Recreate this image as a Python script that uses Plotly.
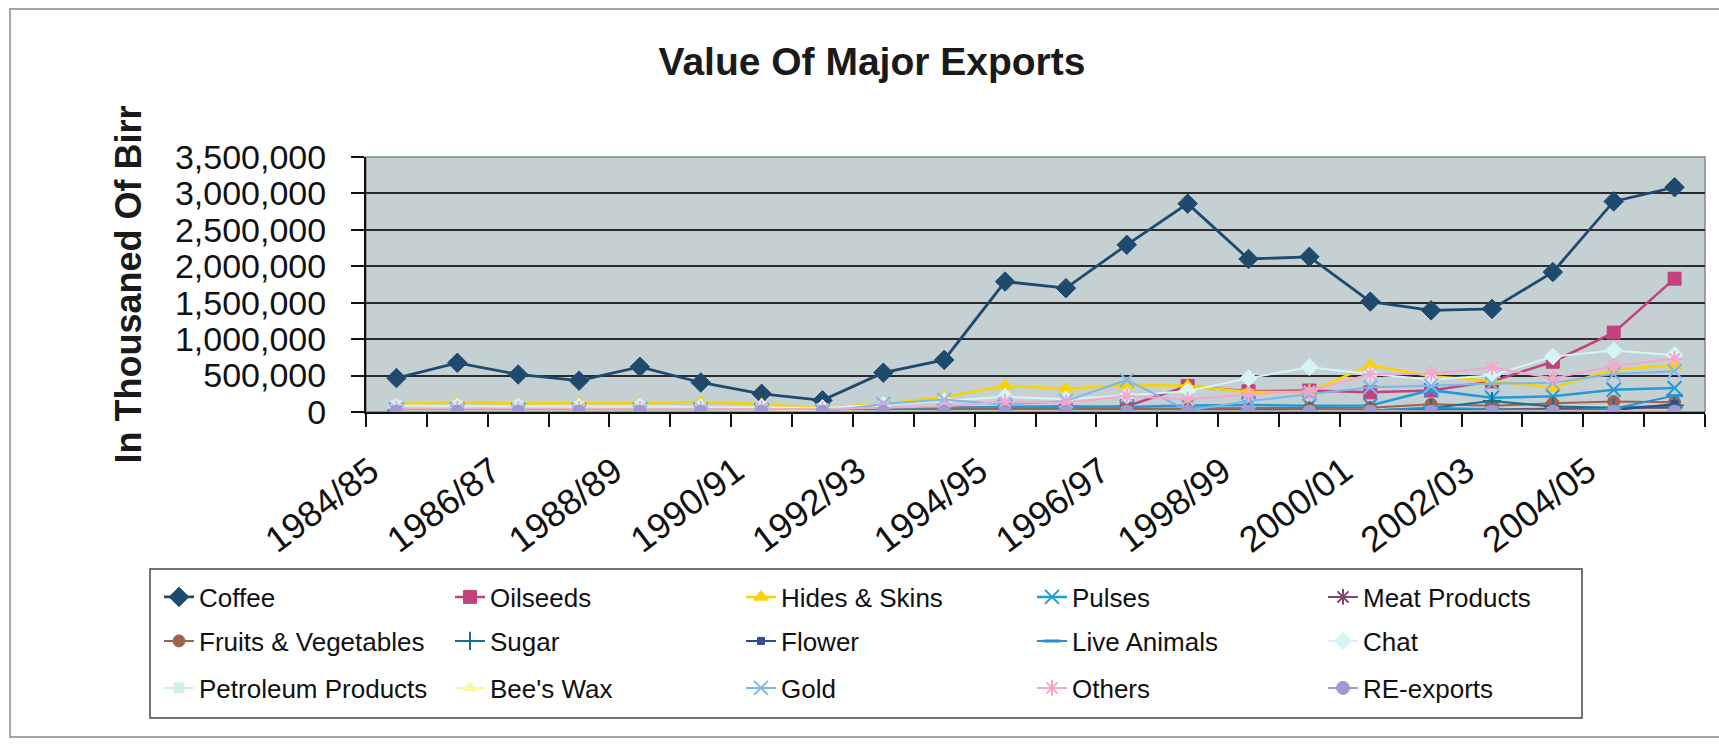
import plotly.graph_objects as go

# Fiscal years on the category axis
years = ["1984/85", "1985/86", "1986/87", "1987/88", "1988/89", "1989/90",
         "1990/91", "1991/92", "1992/93", "1993/94", "1994/95", "1995/96",
         "1996/97", "1997/98", "1998/99", "1999/00", "2000/01", "2001/02",
         "2002/03", "2003/04", "2004/05", "2005/06"]

# Export values, thousand Birr
coffee = [465000, 675000, 515000, 430000, 620000, 405000, 250000, 160000, 540000, 715000, 1790000,
          1700000, 2295000, 2860000, 2100000, 2130000, 1515000, 1395000, 1415000, 1920000, 2890000, 3085000]
oilseeds = [35000, 30000, 30000, 25000, 30000, 25000, 20000, 15000, 25000, 60000, 60000,
            55000, 80000, 355000, 285000, 295000, 270000, 295000, 420000, 690000, 1090000, 1830000]
hides_skins = [110000, 130000, 115000, 125000, 120000, 135000, 105000, 50000, 115000, 205000, 360000,
               320000, 370000, 360000, 275000, 275000, 645000, 490000, 425000, 335000, 585000, 640000]
pulses = [30000, 35000, 30000, 30000, 35000, 30000, 25000, 20000, 45000, 55000, 70000,
          80000, 70000, 90000, 95000, 85000, 90000, 300000, 195000, 215000, 305000, 330000]
meat_products = [20000, 20000, 15000, 15000, 15000, 10000, 5000, 3000, 10000, 15000, 20000,
                 20000, 15000, 25000, 30000, 20000, 25000, 35000, 30000, 45000, 55000, 60000]
fruits_veg = [45000, 45000, 45000, 40000, 40000, 35000, 30000, 20000, 30000, 35000, 45000,
              45000, 40000, 50000, 55000, 55000, 60000, 105000, 85000, 120000, 145000, 135000]
sugar = [20000, 25000, 25000, 15000, 20000, 15000, 10000, 5000, 15000, 20000, 25000,
         10000, 5000, 10000, 15000, 20000, 20000, 55000, 150000, 75000, 60000, 90000]
flower = [0, 0, 0, 0, 0, 0, 0, 0, 0, 0, 0,
          0, 0, 0, 0, 0, 0, 0, 5000, 10000, 25000, 110000]
live_animals = [25000, 25000, 20000, 20000, 25000, 20000, 15000, 10000, 15000, 20000, 25000,
                30000, 20000, 25000, 20000, 15000, 20000, 60000, 40000, 20000, 45000, 225000]
chat = [75000, 80000, 75000, 75000, 80000, 70000, 65000, 55000, 100000, 150000, 210000,
        175000, 225000, 285000, 465000, 615000, 520000, 445000, 500000, 760000, 845000, 780000]
petroleum = [90000, 85000, 80000, 75000, 70000, 60000, 40000, 5000, 0, 0, 0,
             0, 0, 0, 0, 0, 0, 0, 0, 0, 0, 0]
bees_wax = [12000, 14000, 13000, 12000, 11000, 10000, 9000, 6000, 8000, 10000, 12000,
            11000, 10000, 9000, 8000, 9000, 10000, 9000, 10000, 11000, 12000, 13000]
gold = [0, 0, 0, 0, 0, 0, 0, 0, 110000, 170000, 100000,
        150000, 440000, 20000, 150000, 245000, 340000, 360000, 390000, 400000, 520000, 560000]
others = [45000, 45000, 45000, 45000, 45000, 50000, 50000, 40000, 60000, 80000, 140000,
          130000, 220000, 170000, 240000, 285000, 520000, 525000, 610000, 465000, 630000, 730000]
re_exports = [4000, 4000, 4000, 3000, 3000, 3000, 3000, 2000, 3000, 3000, 4000,
              4000, 4000, 5000, 5000, 5000, 5000, 5000, 6000, 6000, 6000, 6000]

# (name, values, colour, marker symbol, marker size, line width, legend row)
series = [
    ("Coffee", coffee, "#1F4A6E", "diamond", 15, 2.8, "legend"),
    ("Oilseeds", oilseeds, "#C2417E", "square", 13, 2.5, "legend"),
    ("Hides & Skins", hides_skins, "#F7D300", "triangle-up", 13, 2.5, "legend"),
    ("Pulses", pulses, "#1E9BD8", "x-thin-open", 14, 2.5, "legend"),
    ("Meat Products", meat_products, "#7A4A6E", "asterisk-open", 13, 2, "legend"),
    ("Fruits & Vegetables", fruits_veg, "#A2614E", "circle", 12, 2, "legend2"),
    ("Sugar", sugar, "#17708F", "cross-thin-open", 13, 2, "legend2"),
    ("Flower", flower, "#2E4E90", "square", 7, 2, "legend2"),
    ("Live Animals", live_animals, "#2A8FCF", "line-ew-open", 12, 2, "legend2"),
    ("Chat", chat, "#D6F3F8", "diamond", 13, 2, "legend2"),
    ("Petroleum Products", petroleum, "#D3EFE6", "square", 10, 2, "legend3"),
    ("Bee's Wax", bees_wax, "#FAF6A6", "triangle-up", 12, 2, "legend3"),
    ("Gold", gold, "#7FB6EA", "x-thin-open", 14, 2, "legend3"),
    ("Others", others, "#F4A7CA", "asterisk-open", 13, 2, "legend3"),
    ("RE-exports", re_exports, "#9C9AD0", "circle", 13, 2, "legend3"),
]

fig = go.Figure()
for name, vals, color, symbol, size, width, leg in series:
    open_sym = symbol.endswith("-open")
    fig.add_trace(go.Scatter(
        x=years, y=vals, name=name, mode="lines+markers", legend=leg,
        line=dict(color=color, width=width),
        marker=dict(symbol=symbol, size=size, color=color,
                    line=dict(color=color, width=3 if symbol == "line-ew-open" else (2 if open_sym else 1))),
    ))

# plot-area geometry in pixels
W, H = 1719, 744
L, R, T, B = 366, 1705, 157, 412
pw, ph = R - L, B - T


def px_x(x):
    return (x - L) / pw


def px_y(y):
    return (B - y) / ph


FONT = "Liberation Sans, Arial, sans-serif"
legend_common = dict(orientation="h", xanchor="left", yanchor="middle",
                     entrywidth=246, entrywidthmode="pixels",
                     bgcolor="rgba(0,0,0,0)", borderwidth=0,
                     font=dict(family=FONT, size=26, color="#111"))

fig.update_layout(
    width=W, height=H,
    margin=dict(l=L, r=W - R, t=T, b=H - B),
    paper_bgcolor="white",
    plot_bgcolor="#C5D0D3",
    title=dict(text="<b>Value Of Major Exports</b>", x=872 / W, xref="container", xanchor="center",
               y=1 - 61 / H, yref="container", yanchor="middle",
               font=dict(family=FONT, size=39, color="#1a1a1a")),
    legend=dict(x=px_x(159), y=px_y(597), **legend_common),
    legend2=dict(x=px_x(159), y=px_y(641), **legend_common),
    legend3=dict(x=px_x(159), y=px_y(688), **legend_common),
    xaxis=dict(
        type="category", tickson="boundaries", ticks="outside", ticklen=13, tickwidth=1.5,
        tickcolor="#111", ticklabelstep=2, tickangle=-37,
        ticklabelstandoff=22, ticklabelshift=-26,
        tickfont=dict(family=FONT, size=36, color="#111"),
        showline=True, linecolor="#111", linewidth=2, showgrid=False,
        range=[-0.5, len(years) - 0.5],
    ),
    yaxis=dict(
        range=[0, 3500000], dtick=500000, tickformat=",",
        ticks="outside", ticklen=13, tickwidth=1.5, tickcolor="#111",
        ticklabelstandoff=18,
        tickfont=dict(family=FONT, size=34, color="#111"),
        showline=True, linecolor="#111", linewidth=2,
        showgrid=True, gridcolor="#2b2b2b", gridwidth=1.8, zeroline=False,
        title=dict(text="<b>In Thousaned Of Birr</b>", standoff=22,
                   font=dict(family=FONT, size=36, color="#1a1a1a")),
    ),
    shapes=[
        # plot-area frame (top and right edges)
        dict(type="rect", xref="paper", yref="paper", x0=0, x1=1, y0=0, y1=1,
             line=dict(color="#7d8a8c", width=1.5), layer="below"),
        # legend box
        dict(type="rect", xref="paper", yref="paper",
             x0=px_x(150), x1=px_x(1582), y0=px_y(569), y1=px_y(718),
             line=dict(color="#444", width=1.5)),
        # chart-area border
        dict(type="rect", xref="paper", yref="paper",
             x0=px_x(10), x1=px_x(1722), y0=px_y(9), y1=px_y(737),
             line=dict(color="#8a8a8a", width=1.5)),
    ],
)

fig.write_html("out.html")
